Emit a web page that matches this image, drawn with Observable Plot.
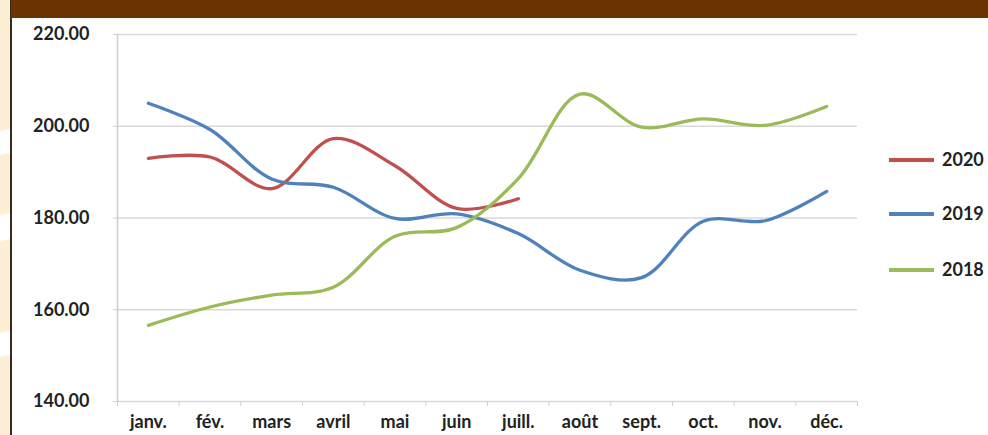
<!DOCTYPE html>
<html><head><meta charset="utf-8">
<script src="https://cdn.jsdelivr.net/npm/d3@7"></script>
<script src="https://cdn.jsdelivr.net/npm/@observablehq/plot@0.6"></script>
<style>
html,body{margin:0;padding:0;background:#fff;}
#wrap{position:relative;width:988px;height:435px;overflow:hidden;font-family:Lato,"Open Sans",sans-serif;}
#band{position:absolute;left:11px;top:0;width:977px;height:18px;background:#6B3300;}
#strip{position:absolute;left:0;top:0;width:10px;height:435px;background:#FDEFD6;overflow:hidden;}
#vline{position:absolute;left:10px;top:0;width:1.5px;height:435px;background:#3a2a1a;}
.wb{position:absolute;left:-5px;width:20px;background:#fff;transform:skewY(-12deg);}
#chart{position:absolute;left:0;top:0;}
#legend{position:absolute;left:889px;top:0;}
.li{position:absolute;left:0;white-space:nowrap;font-weight:700;font-size:18px;color:#222;}
.li span.sw{position:absolute;left:0;width:45px;height:4px;}
.li span.t{position:absolute;left:53px;top:-12px;}
</style></head>
<body>
<div id="wrap">
  <div id="strip">
    <div class="wb" style="top:130px;height:24px"></div>
    <div class="wb" style="top:214px;height:26px"></div>
    <div class="wb" style="top:332px;height:24px"></div>
  </div>
  <div id="vline"></div>
  <div id="band"></div>
  <div id="chart"></div>
  <div id="legend"></div>
</div>
<script>
const months = ["janv.","fév.","mars","avril","mai","juin","juill.","août","sept.","oct.","nov.","déc."];
const series = ["2020","2019","2018"];
const colors = ["#C0504D","#4F81BD","#9BBB59"];
const v2020 = [193.0, 193.3, 186.4, 197.3, 191.4, 182.1, 184.2];
const v2019 = [205.0, 199.3, 188.5, 186.7, 179.9, 180.9, 176.6, 168.6, 167.0, 179.3, 179.4, 185.8];
const v2018 = [156.6, 160.6, 163.2, 164.9, 176.0, 177.9, 188.6, 207.0, 199.8, 201.6, 200.2, 204.3];
const yTicks = [140, 160, 180, 200, 220];

const rows = [];
[v2020, v2019, v2018].forEach((vals, s) => vals.forEach((v, i) => rows.push({series: series[s], i, v})));

const plot = Plot.plot({
  width: 988, height: 435,
  marginLeft: 117, marginRight: 131, marginTop: 34, marginBottom: 34,
  style: {fontFamily: "Lato, 'Open Sans', sans-serif", background: "transparent", overflow: "visible"},
  x: {type: "linear", domain: [-0.5, months.length - 0.5]},
  y: {domain: [140, 220]},
  color: {domain: series, range: colors},
  marks: [
    Plot.ruleY(yTicks, {stroke: "#D9D9D9", strokeWidth: 1.6}),
    Plot.ruleX([-0.5], {stroke: "#D0D0D0", strokeWidth: 1.6}),
    Plot.axisY({ticks: yTicks, tickFormat: d => d.toFixed(2), tickSize: 4, tickPadding: 24,
      stroke: "#D0D0D0", fill: "#222", fontSize: 18, fontWeight: 700, label: null}),
    Plot.axisX({ticks: d3.range(months.length + 1).map(i => i - 0.5), tickFormat: () => "",
      tickSize: 5, stroke: "#D0D0D0", label: null}),
    Plot.axisX({ticks: d3.range(months.length), tickFormat: i => months[i], tickSize: 0, tickPadding: 14,
      fill: "#222", fontSize: 18, fontWeight: 700, label: null}),
    Plot.line(rows, {x: "i", y: "v", z: "series", stroke: "series", strokeWidth: 3.3,
      curve: "catmull-rom", strokeLinecap: "round"})
  ]
});
document.getElementById("chart").appendChild(plot);

const leg = document.getElementById("legend");
const legY = [160, 214, 270];
series.forEach((s, k) => {
  const d = document.createElement("div");
  d.className = "li";
  d.style.top = legY[k] + "px";
  d.innerHTML = `<span class="sw" style="top:-2px;background:${colors[k]}"></span><span class="t">${s}</span>`;
  leg.appendChild(d);
});
</script>
</body></html>
